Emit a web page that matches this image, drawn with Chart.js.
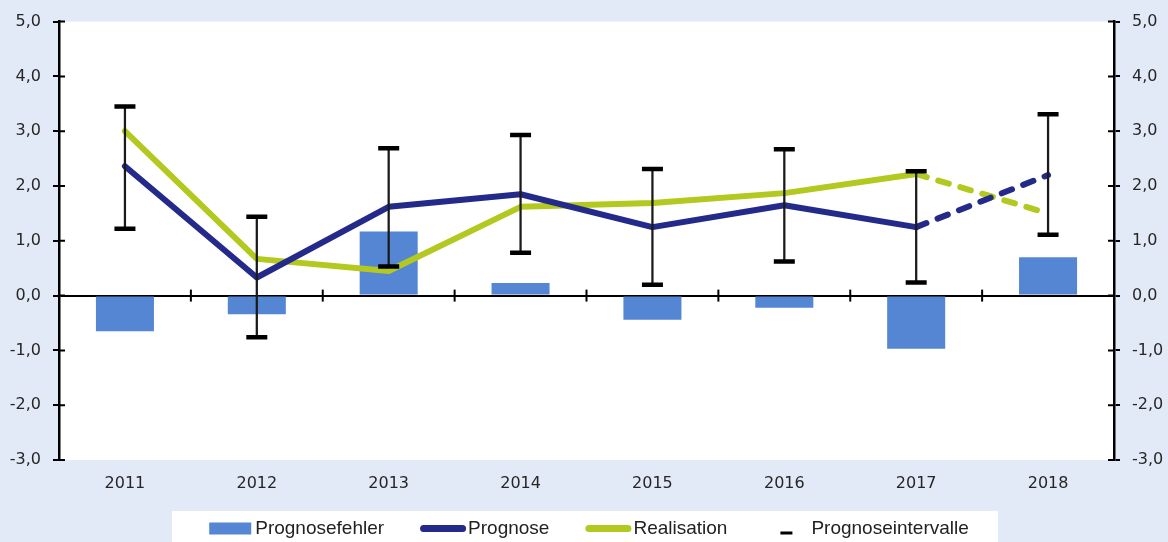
<!DOCTYPE html>
<html>
<head>
<meta charset="utf-8">
<script src="https://cdn.jsdelivr.net/npm/chart.js@4/dist/chart.umd.min.js"></script>
<style>
  html, body { margin: 0; padding: 0; background: #E3EAF7; }
  #chart { display: block; }
</style>
</head>
<body>
<canvas id="chart" width="1168" height="542"></canvas>
<script>
// data
const years = ["2011", "2012", "2013", "2014", "2015", "2016", "2017", "2018"];
const prognosefehler = [-0.65, -0.34, 1.17, 0.23, -0.44, -0.22, -0.97, 0.70];
const prognose = [2.36, 0.33, 1.62, 1.85, 1.25, 1.65, 1.25, 2.20];
const realisation = [3.00, 0.67, 0.45, 1.62, 1.69, 1.87, 2.22, 1.50];
const intervallOben = [3.45, 1.44, 2.69, 2.93, 2.31, 2.67, 2.27, 3.31];
const intervallUnten = [1.22, -0.76, 0.53, 0.78, 0.20, 0.62, 0.24, 1.11];
const yMin = -3, yMax = 5;

const tickFont = { family: "'DejaVu Sans', sans-serif", size: 16 };
const fmt = v => v.toFixed(1).replace(".", ",");

// dashed segment between the last two years
const dashLast = ctx => ctx.p0DataIndex === years.length - 2 ? [11, 12] : undefined;

// white plot area + legend panel, small tick marks, legend
const frame = {
  id: "frame",
  beforeDraw(chart) {
    const { ctx, chartArea: a } = chart;
    ctx.save();
    ctx.fillStyle = "#fff";
    ctx.fillRect(a.left, a.top, a.right - a.left, a.bottom - a.top);
    ctx.fillRect(172, 511, 826, 31);
    ctx.restore();
  },
  beforeDatasetsDraw(chart) {
    const { ctx, scales: { x, y } } = chart;
    const y0 = y.getPixelForValue(0);
    ctx.save();
    ctx.strokeStyle = "#000";
    ctx.lineWidth = 2;
    for (let i = 0; i < years.length - 1; i++) {
      const px = (x.getPixelForValue(i) + x.getPixelForValue(i + 1)) / 2;
      ctx.beginPath();
      ctx.moveTo(px, y0 - 6);
      ctx.lineTo(px, y0 + 6);
      ctx.stroke();
    }
    ctx.restore();
  },
  afterDraw(chart) {
    const { ctx, chartArea: a, scales: { y } } = chart;
    ctx.save();
    // inner halves of the axis ticks
    ctx.strokeStyle = "#000";
    ctx.lineWidth = 2;
    y.ticks.forEach(t => {
      const py = y.getPixelForValue(t.value);
      ctx.beginPath();
      ctx.moveTo(a.left, py); ctx.lineTo(a.left + 6, py);
      ctx.moveTo(a.right - 6, py); ctx.lineTo(a.right, py);
      ctx.stroke();
    });

    // legend
    ctx.font = "19px 'Liberation Sans', sans-serif";
    const items = chart.data.datasets
      .filter(d => d.legendMark)
      .sort((p, q) => p.legendPos - q.legendPos);
    const markW = 46, gapText = 2, gapItem = 36;
    const widths = items.map(d => markW + gapText + ctx.measureText(d.label).width);
    const total = widths.reduce((s, w) => s + w, 0) + gapItem * (items.length - 1);
    let lx = 588 - total / 2;
    const ly = 528.5;
    items.forEach((d, i) => {
      if (d.legendMark === "box") {
        ctx.fillStyle = d.backgroundColor;
        ctx.fillRect(lx + 2, ly - 6, 42, 12);
      } else if (d.legendMark === "line") {
        ctx.strokeStyle = d.borderColor;
        ctx.lineWidth = 7;
        ctx.lineCap = "round";
        ctx.beginPath();
        ctx.moveTo(lx + 3.5, ly);
        ctx.lineTo(lx + markW - 3.5, ly);
        ctx.stroke();
      } else {
        ctx.fillStyle = "#000";
        ctx.fillRect(lx + markW / 2 - 6, ly + 3, 12, 3);
      }
      ctx.fillStyle = "#222";
      ctx.textAlign = "left";
      ctx.textBaseline = "middle";
      ctx.fillText(d.label, lx + markW + gapText, ly);
      lx += widths[i] + gapItem;
    });
    ctx.restore();
  }
};

const yAxis = (position, width) => ({
  type: "linear",
  position,
  min: yMin,
  max: yMax,
  afterFit: s => { s.width = width; },
  border: { display: true, color: "#000", width: 2.5 },
  grid: {
    drawOnChartArea: position === "left",
    color: c => (c.tick && c.tick.value === 0 ? "#000" : "rgba(0,0,0,0)"),
    lineWidth: 2,
    tickColor: "#000",
    tickLength: 6,
    tickWidth: 2
  },
  ticks: {
    stepSize: 1,
    padding: 12,
    font: tickFont,
    color: "#262626",
    callback: v => fmt(v)
  }
});

const capStyle = {
  type: "line",
  showLine: false,
  pointStyle: "line",
  pointRadius: 10.5,
  pointHoverRadius: 10.5,
  pointBorderWidth: 4.5,
  pointBorderColor: "#000",
  borderColor: "#000",
  order: -1
};

const config = {
  type: "bar",
  data: {
    labels: years,
    datasets: [
      Object.assign({ label: "Prognoseintervalle", legendMark: "dash", legendPos: 4, data: intervallOben }, capStyle),
      Object.assign({ label: "Intervall unten", data: intervallUnten }, capStyle),
      {
        type: "bar",
        label: "Intervall",
        data: years.map((_, i) => [intervallUnten[i], intervallOben[i]]),
        backgroundColor: "#1a1a1a",
        barThickness: 1.6,
        grouped: false,
        order: 0
      },
      {
        type: "line",
        label: "Prognose",
        legendMark: "line",
        legendPos: 2,
        data: prognose,
        borderColor: "#232A8A",
        borderWidth: 6,
        pointRadius: 0,
        borderCapStyle: "round",
        borderJoinStyle: "round",
        segment: { borderDash: dashLast },
        order: 1
      },
      {
        type: "line",
        label: "Realisation",
        legendMark: "line",
        legendPos: 3,
        data: realisation,
        borderColor: "#B3C91F",
        borderWidth: 6,
        pointRadius: 0,
        borderCapStyle: "round",
        borderJoinStyle: "round",
        segment: { borderDash: dashLast },
        order: 1
      },
      {
        type: "bar",
        label: "Prognosefehler",
        legendMark: "box",
        legendPos: 1,
        data: prognosefehler,
        backgroundColor: "#5486D4",
        categoryPercentage: 1,
        barPercentage: 0.44,
        grouped: false,
        order: 2
      }
    ]
  },
  options: {
    responsive: false,
    animation: false,
    layout: { padding: { top: 20, left: 0, right: 0, bottom: 0 } },
    plugins: {
      legend: { display: false },
      tooltip: { enabled: false }
    },
    scales: {
      x: {
        offset: true,
        afterFit: s => { s.height = 82; },
        border: { display: false },
        grid: { display: false, drawTicks: false },
        ticks: { padding: 14, font: tickFont, color: "#262626" }
      },
      y: yAxis("left", 59),
      y2: yAxis("right", 54)
    }
  },
  plugins: [frame]
};

const myChart = new Chart(document.getElementById("chart"), config);
</script>
</body>
</html>
